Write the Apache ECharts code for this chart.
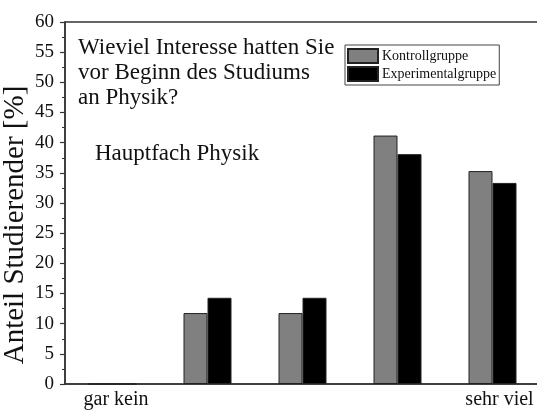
<!DOCTYPE html>
<html>
<head>
<meta charset="utf-8">
<script src="https://cdn.jsdelivr.net/npm/echarts@6/dist/echarts.min.js"></script>
<style>html,body{margin:0;padding:0;background:#fff}#c{width:537px;height:412px}</style>
</head>
<body>
<div id="c"></div>
<script>
const categories = ['gar kein', '', '', '', 'sehr viel'];
const kontroll = [0, 11.76, 11.76, 41.18, 35.29];
const experimental = [0, 14.29, 14.29, 38.10, 33.33];
const yTicks = [0, 5, 10, 15, 20, 25, 30, 35, 40, 45, 50, 55, 60];
const seriesNames = ['Kontrollgruppe', 'Experimentalgruppe'];
const titleLines = ['Wieviel Interesse hatten Sie', 'vor Beginn des Studiums', 'an Physik?'];
const subTitle = 'Hauptfach Physik';
const yName = 'Anteil Studierender [%]';

const FONT = '"Liberation Serif", "Times New Roman", serif';
const chart = echarts.init(document.getElementById('c'), null, {renderer: 'canvas'});
chart.setOption({
  animation: false,
  backgroundColor: '#fff',
  textStyle: {fontFamily: FONT},
  title: [
    {text: titleLines.join('\n'), left: 78, top: 35, padding: 0,
     textStyle: {fontFamily: FONT, fontSize: 23, fontWeight: 'normal', color: '#111', lineHeight: 25}},
    {text: subTitle, left: 95, top: 141, padding: 0,
     textStyle: {fontFamily: FONT, fontSize: 23, fontWeight: 'normal', color: '#111', lineHeight: 25}}
  ],
  legend: {
    orient: 'vertical', left: 345, top: 45, icon: 'rect',
    itemWidth: 30, itemHeight: 14, itemGap: 2,
    padding: [3, 3, 3, 2],
    borderColor: '#444', borderWidth: 1,
    textStyle: {fontFamily: FONT, fontSize: 14, color: '#111', padding: [0, 0, 0, -1]},
    data: seriesNames
  },
  grid: {left: 65, right: -3, top: 22, bottom: 28, show: true, borderColor: '#333', borderWidth: 1.5,
         containLabel: false, outerBoundsMode: 'none'},
  xAxis: [
    {type: 'category', data: categories, boundaryGap: true,
     axisLine: {lineStyle: {color: '#333', width: 1.5}},
     axisTick: {inside: true, length: 4, interval: 0, lineStyle: {color: '#333', width: 1.2}},
     axisLabel: {interval: 0, fontFamily: FONT, fontSize: 20, color: '#111', margin: 6,
       formatter: (v, i) => v ? (i === 4 ? '{r|' + v + '}' : '{l|' + v + '}') : '',
       rich: {
         l: {fontFamily: FONT, fontSize: 20, color: '#111', padding: [0, 0, 0, 7]},
         r: {fontFamily: FONT, fontSize: 20, color: '#111', padding: [0, 0, 0, 14]}
       }},
     splitLine: {show: false}},
    {type: 'category', data: categories, position: 'bottom', boundaryGap: true,
     axisLine: {show: false}, axisLabel: {show: false}, splitLine: {show: false},
     axisTick: {inside: true, length: 4, alignWithLabel: true,
       interval: (i) => i === 0 || i === 4, lineStyle: {color: '#333', width: 1.2}}}
  ],
  yAxis: {
    type: 'value', min: yTicks[0], max: yTicks[yTicks.length - 1], interval: 5,
    name: yName, nameLocation: 'middle', nameGap: 35, nameRotate: 90, nameMoveOverlap: false,
    nameTextStyle: {fontFamily: FONT, fontSize: 29, color: '#111', padding: [0, 44, 0, 0]},
    axisLine: {show: true, lineStyle: {color: '#333', width: 1.5}},
    axisTick: {show: true, inside: false, length: 5, lineStyle: {color: '#333', width: 1.2}},
    minorTick: {show: true, splitNumber: 2, length: 3, lineStyle: {color: '#333', width: 1}},
    axisLabel: {fontFamily: FONT, fontSize: 19, color: '#111', margin: 11},
    splitLine: {show: false}
  },
  series: [
    {name: seriesNames[0], type: 'bar', data: kontroll, barWidth: 24, barGap: '0%',
     itemStyle: {color: '#808080', borderColor: '#222', borderWidth: 1}},
    {name: seriesNames[1], type: 'bar', data: experimental, barWidth: 24, barGap: '0%',
     itemStyle: {color: '#000', borderColor: '#222', borderWidth: 1}}
  ]
});
</script>
</body>
</html>
